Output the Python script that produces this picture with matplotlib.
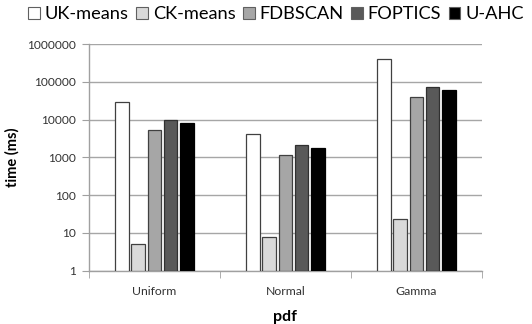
import numpy as np
import matplotlib
matplotlib.use("Agg")
import matplotlib.pyplot as plt
from matplotlib.patches import Patch

plt.rcParams['font.family'] = ['Lato', 'DejaVu Sans']

# Running time per clustering algorithm for each pdf type
categories = ["Uniform", "Normal", "Gamma"]
algorithms = ["UK-means", "CK-means", "FDBSCAN", "FOPTICS", "U-AHC"]
uk_means = [30000, 4100, 400000]
ck_means = [4.2, 6.8, 22]
fdbscan = [5400, 1180, 40000]
foptics = [10000, 2170, 73000]
u_ahc = [8200, 1730, 61000]
y_ticks = [1, 10, 100, 1000, 10000, 100000, 1000000]

series = [uk_means, ck_means, fdbscan, foptics, u_ahc]
fills = ["#ffffff", "#d9d9d9", "#a6a6a6", "#595959", "#000000"]
edges = ["#404040", "#404040", "#404040", "#303030", "#000000"]

fig = plt.figure(figsize=(5.32, 3.24), dpi=100)
ax = fig.add_axes([0.167, 0.1645, 0.739, 0.6995])

x = np.arange(len(categories))
step = 0.124
width = 0.103
for i, (vals, fc, ec) in enumerate(zip(series, fills, edges)):
    ax.bar(x + (i - 2) * step, vals, width=width, bottom=1, color=fc,
           edgecolor=ec, linewidth=0.9, zorder=3, label=algorithms[i])

ax.set_yscale("log")
ax.set_ylim(1, 1000000)
ax.set_xlim(-0.5, len(categories) - 0.5)
ax.set_yticks(y_ticks)
ax.set_yticklabels([str(v) for v in y_ticks])
ax.yaxis.set_minor_locator(matplotlib.ticker.NullLocator())
ax.grid(axis="y", color="#a6a6a6", linewidth=1.0, zorder=0)

ax.set_xticks(x)
ax.set_xticklabels(categories)
ax.set_xticks(np.arange(len(categories) + 1) - 0.5, minor=True)
ax.tick_params(axis="x", which="major", length=0, pad=11, labelsize=8.8, labelcolor="#333333")
ax.tick_params(axis="x", which="minor", length=5, color="#a0a0a0", direction="out")
ax.tick_params(axis="y", which="major", length=5, color="#a0a0a0", labelsize=8.6,
               labelcolor="#333333", pad=4)

for s in ["top", "right"]:
    ax.spines[s].set_visible(False)
for s in ["left", "bottom"]:
    ax.spines[s].set_color("#a0a0a0")
    ax.spines[s].set_linewidth(1.0)

ax.set_ylabel("time (ms)", fontsize=10.5, fontweight="bold")
ax.yaxis.set_label_coords(-0.176, 0.5)
ax.set_xlabel("pdf", fontsize=11.5, fontweight="bold")
ax.xaxis.set_label_coords(0.5, -0.172)

handles = [Patch(facecolor=fc, edgecolor="#606060", linewidth=0.8) for fc in fills]
fig.legend(handles, algorithms, loc="upper left", bbox_to_anchor=(0.029, 1.02),
           ncol=5, frameon=False, fontsize=13.15, handlelength=0.62, handleheight=0.62,
           handletextpad=0.28, columnspacing=0.42, borderaxespad=0.3)

fig.savefig("out.png", dpi=100)
